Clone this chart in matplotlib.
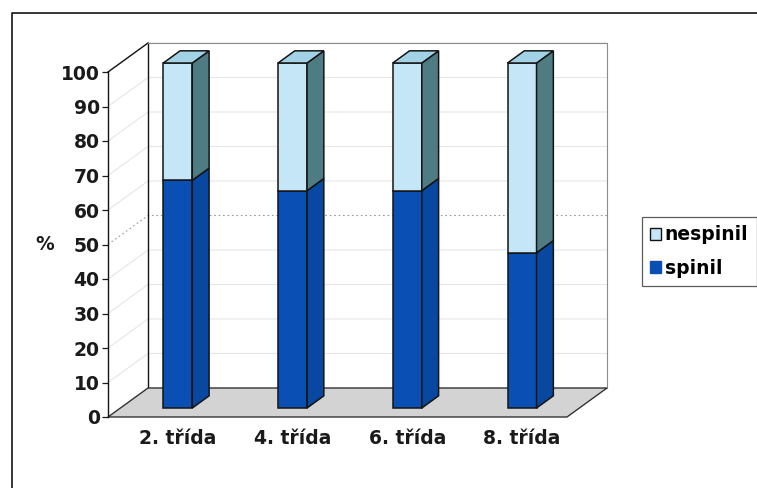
import numpy as np
import matplotlib
matplotlib.use("Agg")
import matplotlib.pyplot as plt
from matplotlib.patches import Polygon, Patch
from matplotlib.lines import Line2D

plt.rcParams['font.family'] = ['DejaVu Sans']
plt.rcParams['font.weight'] = 'bold'

# data
categories = ["2. třída", "4. třída", "6. třída", "8. třída"]
spinil = [66, 63, 63, 45]
nespinil = [34, 37, 37, 55]
series_names = ["nespinil", "spinil"]
y_ticks = list(range(0, 101, 10))

# 3d look (depth of the plot box in data units, bar placement inside it)
DX = 40 / 114.75
DY = 29 / 3.45
BAR_W = 0.253
F0 = 0.31      # bar front depth fraction
FD = 0.42      # bar depth fraction

C_NES_FRONT = "#c4e6f6"
C_NES_TOP = "#a2d2e6"
C_NES_SIDE = "#4f7c82"
C_SP_FRONT = "#0a50b4"
C_SP_SIDE = "#0848a0"
C_SP_TOP = "#2a64c0"
EDGE = "#141414"
TXT = "#1a1a1a"

fig = plt.figure(figsize=(7.57, 4.88), dpi=100)
ax = fig.add_axes([108 / 757, 71 / 488, 459 / 757, 345 / 488])
n = len(categories)
ax.set_xlim(0, n)
ax.set_ylim(0, 100)


def poly(pts, fc, ec=EDGE, lw=1.1, z=3):
    ax.add_patch(Polygon(pts, closed=True, facecolor=fc, edgecolor=ec,
                         linewidth=lw, clip_on=False, zorder=z))


# walls
poly([(DX, DY), (n + DX, DY), (n + DX, 100 + DY), (DX, 100 + DY)], "white",
     ec="none", z=0.5)
poly([(0, 0), (DX, DY), (DX, 100 + DY), (0, 100)], "white", ec="none", z=0.5)

# gridlines on the walls
for v in y_ticks[1:]:
    ls = (0, (1.5, 2.5)) if v == 50 else "-"
    col = "#9a9a9a" if v == 50 else "#e6e6e6"
    ax.plot([0, DX, n + DX], [v, v + DY, v + DY], color=col, lw=0.8,
            ls=ls, clip_on=False, zorder=1)

# wall edges
ax.plot([DX, DX], [DY, 100 + DY], color=EDGE, lw=1.0, clip_on=False, zorder=1.2)
ax.plot([0, DX], [100, 100 + DY], color=EDGE, lw=1.0, clip_on=False, zorder=1.2)
ax.plot([DX, n + DX, n + DX], [100 + DY, 100 + DY, DY], color="#8c8c8c",
        lw=0.8, clip_on=False, zorder=1.2)

# floor
poly([(0, 0), (n, 0), (n + DX, DY), (DX, DY)], "#d3d3d3", ec="#333333",
     lw=1.0, z=2)

# bars
for i in range(n):
    x0 = i + 0.5 - BAR_W / 2 + F0 * DX
    x1 = x0 + BAR_W
    bx = FD * DX
    base = F0 * DY
    segs = [(0, spinil[i], C_SP_FRONT, C_SP_SIDE, C_SP_TOP),
            (spinil[i], spinil[i] + nespinil[i], C_NES_FRONT, C_NES_SIDE, C_NES_TOP)]
    for k, (lo, hi, cf, cs, ct) in enumerate(segs):
        ylo, yhi = lo + base, hi + base
        z = 3 + i * 0.1 + k * 0.01
        poly([(x0, ylo), (x1, ylo), (x1, yhi), (x0, yhi)], cf, z=z)
        poly([(x1, ylo), (x1 + bx, ylo + FD * DY), (x1 + bx, yhi + FD * DY),
              (x1, yhi)], cs, z=z)
        if k == len(segs) - 1:
            poly([(x0, yhi), (x1, yhi), (x1 + bx, yhi + FD * DY),
                  (x0 + bx, yhi + FD * DY)], ct, z=z)

# axes styling
for s in ["top", "right", "bottom"]:
    ax.spines[s].set_visible(False)
ax.spines["left"].set_color(EDGE)
ax.spines["left"].set_linewidth(1.0)
ax.set_yticks(y_ticks)
ax.tick_params(axis="y", direction="out", length=4, width=0.9, pad=2,
               labelsize=13.5, colors=TXT)
ax.set_xticks(np.arange(n) + 0.5 + F0 * DX)
ax.set_xticklabels(categories)
ax.tick_params(axis="x", length=0, pad=9, labelsize=13.5, colors=TXT)
ax.set_ylabel("%", rotation=0, fontsize=13.5, fontweight="bold", color=TXT,
              va="center", ha="center")
ax.yaxis.set_label_coords(-0.137, 0.5)
ax.patch.set_visible(False)

# legend
handles = [Patch(facecolor=C_NES_FRONT, edgecolor=EDGE, linewidth=1.0),
           Patch(facecolor=C_SP_FRONT, edgecolor=C_SP_FRONT, linewidth=1.0)]
leg = fig.legend(handles, series_names, loc="upper left",
                 bbox_to_anchor=(642 / 757, 1 - 217 / 488), frameon=True,
                 fancybox=False, edgecolor="#333333", fontsize=13.5,
                 handlelength=0.55, handleheight=0.6, handletextpad=0.2,
                 borderpad=0.45, labelspacing=0.75, borderaxespad=0)
leg.get_frame().set_linewidth(0.9)

# outer chart border
fig.add_artist(Line2D([12 / 757, 12 / 757, 1.0], [0, 1 - 13 / 488, 1 - 13 / 488],
                      transform=fig.transFigure, color=EDGE, lw=1.2))

fig.savefig("out.png", dpi=100)
